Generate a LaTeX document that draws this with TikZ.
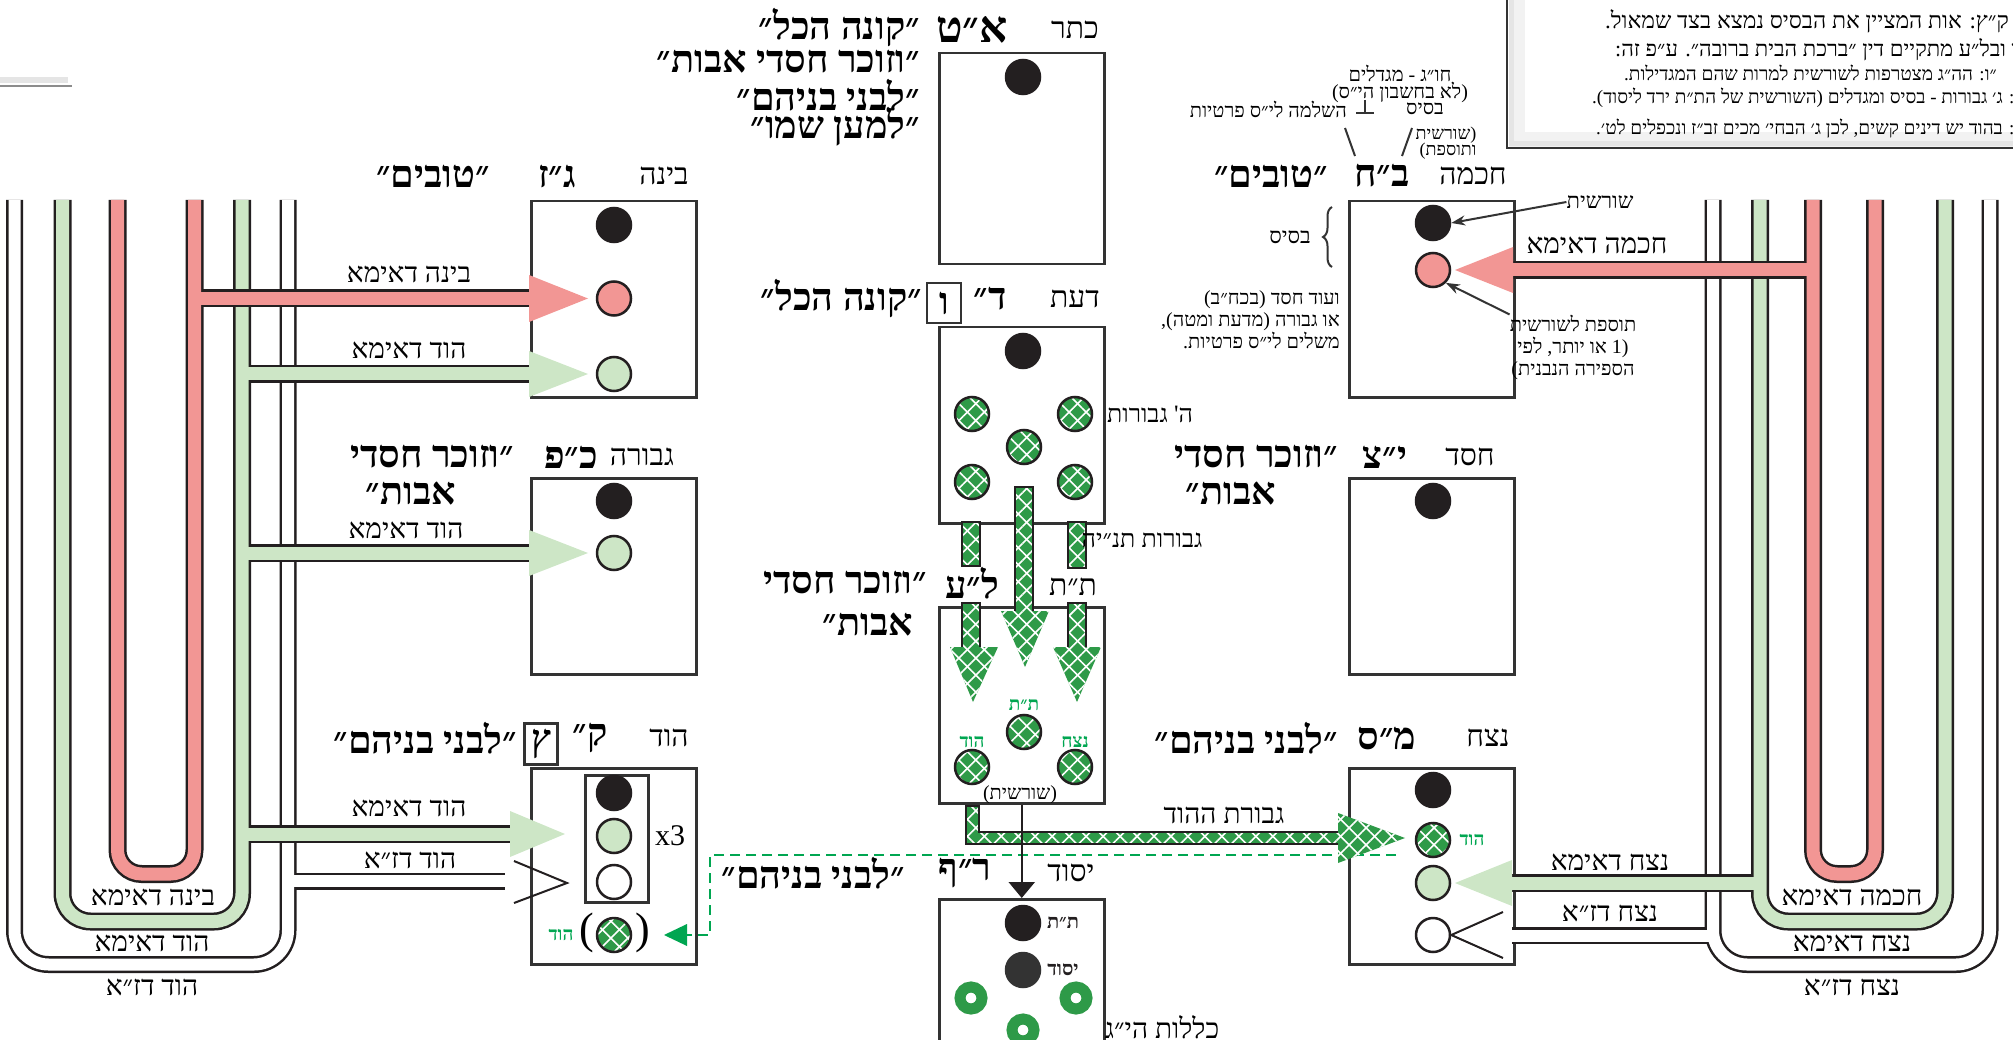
\documentclass[tikz,border=0pt]{standalone}
\usepackage{fontspec}
\setmainfont{Liberation Serif}
\newfontfamily\hebr[Script=Hebrew]{Liberation Serif}
\usetikzlibrary{patterns.meta,decorations.pathreplacing,arrows.meta}
\TeXXeTstate=1
\definecolor{pinkc}{HTML}{F29694}
\definecolor{lgreen}{HTML}{CDE6C6}
\definecolor{hgreen}{HTML}{2E9A48}
\definecolor{dgreen}{HTML}{00A651}
\definecolor{boxc}{HTML}{333333}
\definecolor{blk}{HTML}{231F20}
\newcommand{\RL}[1]{\beginR #1\endR}
\tikzset{
  sbox/.style={draw=boxc, line width=2.5pt, minimum width=165pt, minimum height=196pt, anchor=north west, inner sep=0pt},
  hatch/.style={fill=hgreen,
    postaction={pattern color=white, pattern={Lines[angle=45,distance=12pt,line width=1.6pt]}},
    postaction={pattern color=white, pattern={Lines[angle=-45,distance=12pt,line width=1.6pt]}}},
  hatchb/.style={hatch, postaction={draw=blk, line width=2.2pt}},
  dot/.style={circle, minimum size=34pt, inner sep=0pt, draw=blk, line width=2.5pt},
  bdot/.style={dot, fill=blk},
  pdot/.style={dot, fill=pinkc},
  gdot/.style={dot, fill=lgreen},
  wdot/.style={dot, fill=white},
  hdot/.style={circle, minimum size=34pt, inner sep=0pt, hatch, postaction={draw=blk, line width=2.5pt}},
  ring/.style={circle, minimum size=22pt, inner sep=0pt, draw=hgreen, line width=11pt},
  lbl/.style={font=\hebr\fontsize{28}{30}\selectfont, inner sep=0pt},
  hdn/.style={font=\hebr\fontsize{30}{34}\selectfont, inner sep=0pt},
  hdb/.style={font=\hebr\bfseries\fontsize{38}{40}\selectfont, inner sep=0pt},
  note/.style={font=\hebr\fontsize{20}{22}\selectfont, inner sep=0pt},
  leg/.style={font=\hebr\fontsize{19}{22}\selectfont, inner sep=0pt, anchor=west},
  glbl/.style={font=\hebr\bfseries\fontsize{19}{21}\selectfont, text=dgreen, inner sep=0pt},
  klbl/.style={font=\hebr\bfseries\fontsize{20}{22}\selectfont, text=blk, inner sep=0pt},
  tubeb/.style={draw=blk, line width=18pt},
  tubec/.style={line width=13pt},
  thinb/.style={draw=blk, line width=17pt},
  thinc/.style={draw=white, line width=12pt},
  thinarr/.style={draw=boxc, line width=2pt, -{Stealth[length=14pt,width=10pt]}},
}
\begin{document}
\begin{tikzpicture}[x=1pt,y=-1pt]
\useasboundingbox (0,0) rectangle (2013,1040);
% ---------- corner of a box at top left
\draw[black!10, line width=6pt] (-20,80) -- (68,80);
\draw[black!45, line width=1.5pt] (-20,86) -- (72,86);
% ---------- legend box (top right)
\draw[black!5, line width=16pt] (1517,-20) rectangle (2040,140);
\draw[black!10, line width=5pt] (1511,-20) rectangle (2040,144);
\draw[boxc, line width=2pt] (1507,-20) rectangle (2040,148);
\node[leg, font=\hebr\fontsize{23}{26}\selectfont] (lg1) at (1605,21) {\RL{ק״ץ: אות המציין את הבסיס נמצא בצד שמאול.}};
\node[leg, font=\hebr\fontsize{22}{24}\selectfont] (lg2) at (1615,50) {\RL{ו ובל״ע מתקיים דין ״ברכת הבית ברובה״. ע״פ זה:}};
\node[leg] (lg3) at (1624,73) {\RL{״ו: הה״ג מצטרפות לשורשית למרות שהם המגדילות.}};
\node[leg] (lg4) at (1592,98) {\RL{״ע: ג׳ גבורות - בסיס ומגדלים (השורשית של הת״ת ירד ליסוד).}};
\node[leg] (lg5) at (1596,129) {\RL{: בהוד יש דינים קשים, לכן ג׳ הבחי׳ מכים זב״ז ונכפלים לט׳.}};

% ---------- boxes
\node[sbox, minimum height=211pt] (keter) at (938,52) {};
\node[sbox] (binah) at (530,200) {};
\node[sbox] (hochma) at (1348,200) {};
\node[sbox] (daat) at (938,326) {};
\node[sbox] (gevura) at (530,477) {};
\node[sbox] (chesed) at (1348,477) {};
\node[sbox] (tiferet) at (938,606) {};
\node[sbox] (hod) at (530,767) {};
\node[sbox] (netzach) at (1348,767) {};
\node[sbox] (yesod) at (938,898) {};
\node[draw=boxc, line width=2.5pt, minimum width=63pt, minimum height=127pt, inner sep=0pt, anchor=north west] (hodin) at (584,774) {};

% ---------- left tubes
\draw[thinb, rounded corners=34pt] (14.5,200) -- (14.5,964.5) -- (288,964.5) -- (288,200);
\draw[thinb] (288,881) -- (505,881);
\draw[thinc, rounded corners=34pt] (14.5,200) -- (14.5,964.5) -- (288,964.5) -- (288,200);
\draw[thinc] (288,881) -- (505,881);
\draw[tubeb, rounded corners=28pt] (62.5,200) -- (62.5,921.5) -- (242,921.5) -- (242,200);
\draw[tubeb] (242,374) -- (529,374) (242,553) -- (529,553) (242,834) -- (510,834);
\draw[tubec, lgreen, rounded corners=28pt] (62.5,200) -- (62.5,921.5) -- (242,921.5) -- (242,200);
\draw[tubec, lgreen] (242,374) -- (529,374) (242,553) -- (529,553) (242,834) -- (510,834);
\draw[tubeb, rounded corners=24pt] (117.5,200) -- (117.5,874) -- (194.5,874) -- (194.5,200);
\draw[tubeb] (194.5,298.5) -- (529,298.5);
\draw[tubec, pinkc, rounded corners=24pt] (117.5,200) -- (117.5,874) -- (194.5,874) -- (194.5,200);
\draw[tubec, pinkc] (194.5,298.5) -- (529,298.5);

% ---------- right tubes
\draw[thinb, rounded corners=34pt] (1990,200) -- (1990,964.5) -- (1713,964.5) -- (1713,200);
\draw[thinb] (1713,935.5) -- (1512,935.5);
\draw[thinc, rounded corners=34pt] (1990,200) -- (1990,964.5) -- (1713,964.5) -- (1713,200);
\draw[thinc] (1713,935.5) -- (1512,935.5);
\draw[tubeb, rounded corners=28pt] (1945,200) -- (1945,921.5) -- (1760,921.5) -- (1760,200);
\draw[tubeb] (1760,883) -- (1512,883);
\draw[tubec, lgreen, rounded corners=28pt] (1945,200) -- (1945,921.5) -- (1760,921.5) -- (1760,200);
\draw[tubec, lgreen] (1760,883) -- (1512,883);
\draw[tubeb, rounded corners=24pt] (1875,200) -- (1875,874) -- (1813,874) -- (1813,200);
\draw[tubeb] (1813,270) -- (1513,270);
\draw[tubec, pinkc, rounded corners=24pt] (1875,200) -- (1875,874) -- (1813,874) -- (1813,200);
\draw[tubec, pinkc] (1813,270) -- (1513,270);

% ---------- broad arrowheads
\fill[pinkc] (529,275) -- (588,298.5) -- (529,322) -- cycle;
\fill[lgreen] (529,351) -- (588,374) -- (529,397) -- cycle;
\fill[lgreen] (529,530) -- (588,553) -- (529,576) -- cycle;
\fill[lgreen] (510,811) -- (565,834) -- (510,857) -- cycle;
\fill[pinkc] (1513,247) -- (1455,270) -- (1513,293) -- cycle;
\fill[lgreen] (1512,860) -- (1455,883) -- (1512,906) -- cycle;

% ---------- hatched stripes daat -> tiferet
\path[hatchb] (962,522) rectangle (980,566);
\path[hatchb] (962,603) rectangle (980,648);
\path[hatchb] (1015,487) rectangle (1033,612);
\path[hatchb] (1068,522) rectangle (1086,568);
\path[hatchb] (1068,603) rectangle (1086,648);
\path[hatch] (950,647) -- (998,647) -- (973,702) -- cycle;
\path[hatch] (1001,611) -- (1049,611) -- (1025,667) -- cycle;
\path[hatch] (1053,647) -- (1101,647) -- (1077,702) -- cycle;

% ---------- green dashed line
\draw[dgreen, line width=2.5pt, dash pattern=on 10pt off 6pt] (1396,855) -- (710,855) -- (710,935) -- (686,935);
\fill[dgreen] (687,924) -- (664,935) -- (687,946) -- cycle;

% ---------- gevurat hahod L-shaft
\path[hatchb] (966,806) -- (979,806) -- (979,832) -- (1340,832) -- (1340,844) -- (966,844) -- cycle;
\path[hatch] (1338,813) -- (1405,838) -- (1338,863) -- cycle;

% ---------- tiferet -> yesod
\draw[blk, line width=2.5pt, -{Triangle[length=16pt,width=26pt]}] (tiferet.south) -- (yesod.north);

% ---------- circles
\node[bdot] (kC) at (1023,77) {};
\node[bdot] (bC1) at (614,225) {};
\node[pdot] (bC2) at (614,298.5) {};
\node[gdot] (bC3) at (614,374) {};
\node[bdot] (hoC1) at (1433,223) {};
\node[pdot] (hoC2) at (1433,270) {};
\node[bdot] (dC) at (1023,351) {};
\node[hdot] (dH1) at (972,414) {};
\node[hdot] (dH2) at (1075,414) {};
\node[hdot] (dH3) at (1024,447) {};
\node[hdot] (dH4) at (972,482) {};
\node[hdot] (dH5) at (1075,482) {};
\node[bdot] (gC1) at (614,501) {};
\node[gdot] (gC2) at (614,553) {};
\node[bdot] (cC1) at (1433,501) {};
\node[hdot] (tH1) at (1024,732) {};
\node[hdot] (tH2) at (972,767) {};
\node[hdot] (tH3) at (1075,767) {};
\node[bdot] (hdC1) at (614,793) {};
\node[gdot] (hdC2) at (614,836) {};
\node[wdot] (hdC3) at (614,882) {};
\node[hdot] (hdC4) at (614,935) {};
\node[bdot] (nC1) at (1433,790) {};
\node[hdot] (nC2) at (1433,840) {};
\node[gdot] (nC3) at (1433,883) {};
\node[wdot] (nC4) at (1433,935) {};
\node[bdot] (yC1) at (1023,923) {};
\node[bdot, fill=boxc, draw=boxc] (yC2) at (1023,970) {};
\node[ring] (yR1) at (971,998) {};
\node[ring] (yR2) at (1076,998) {};
\node[ring] (yR3) at (1023,1030) {};

% ---------- open arrows of ZA
\draw[blk, line width=2pt] (514,861) -- (567,883) -- (514,903);
\draw[blk, line width=2pt] (1503,912) -- (nC4.east) -- (1503,958);

% ---------- headers
\node[hdn] (tK) at (1075,30) {\RL{כתר}};
\node[hdb, font=\hebr\bfseries\fontsize{44}{46}\selectfont] (lK) at (972,30) {\RL{א״ט}};
\node[hdb, anchor=east] (qK1) at (920,28) {\RL{״קונה הכל״}};
\node[hdb, anchor=east] (qK2) at (920,62) {\RL{״וזוכר חסדי אבות״}};
\node[hdb, anchor=east] (qK3) at (920,95) {\RL{״לבני בניהם״}};
\node[hdb, anchor=east] (qK4) at (920,127) {\RL{״למען שמו״}};

\node[hdn] (tB) at (664,176) {\RL{בינה}};
\node[hdb] (lB) at (557,176) {\RL{ג״ז}};
\node[hdb, anchor=east] (qB) at (490,176) {\RL{״טובים״}};

\node[hdn] (tH) at (1473,176) {\RL{חכמה}};
\node[hdb] (lH) at (1382,176) {\RL{ב״ח}};
\node[hdb, anchor=east] (qH) at (1328,176) {\RL{״טובים״}};

\node[hdn] (tD) at (1075,299) {\RL{דעת}};
\node[hdb] (lD) at (990,299) {\RL{ד״}};
\node[hdb, draw=boxc, line width=2.5pt, minimum width=34pt, minimum height=40pt] (lDv) at (944,303) {\RL{ו}};
\node[hdb, anchor=east] (qD) at (922,299) {\RL{״קונה הכל״}};

\node[hdn] (tG) at (642,457) {\RL{גבורה}};
\node[hdb] (lG) at (571,457) {\RL{כ״פ}};
\node[hdb, anchor=east] (qG1) at (514,457) {\RL{״וזוכר חסדי}};
\node[hdb, anchor=east] (qG2) at (456,494) {\RL{אבות״}};

\node[hdn] (tC) at (1470,457) {\RL{חסד}};
\node[hdb] (lC) at (1385,457) {\RL{י״צ}};
\node[hdb, anchor=east] (qC1) at (1338,457) {\RL{״וזוכר חסדי}};
\node[hdb, anchor=east] (qC2) at (1276,494) {\RL{אבות״}};

\node[hdn] (tT) at (1073,587) {\RL{ת״ת}};
\node[hdb] (lT) at (972,583) {\RL{ל״ע}};
\node[hdb, anchor=east] (qT1) at (927,583) {\RL{״וזוכר חסדי}};
\node[hdb, anchor=east] (qT2) at (913,625) {\RL{אבות״}};

\node[hdn] (tHo) at (669,738) {\RL{הוד}};
\node[hdb] (lHo) at (590,738) {\RL{ק״}};
\node[hdb, draw=boxc, line width=2.5pt, minimum width=33pt, minimum height=41pt] (lHov) at (541,744) {\RL{ץ}};
\node[hdb, anchor=east] (qHo) at (517,738) {\RL{״לבני בניהם״}};

\node[hdn] (tN) at (1488,738) {\RL{נצח}};
\node[hdb] (lN) at (1387,738) {\RL{מ״ס}};
\node[hdb, anchor=east] (qN) at (1338,738) {\RL{״לבני בניהם״}};

\node[hdn] (tY) at (1071,873) {\RL{יסוד}};
\node[hdb] (lY) at (965,873) {\RL{ר״ף}};
\node[hdb, anchor=east] (qY) at (905,873) {\RL{״לבני בניהם״}};

% ---------- arrow labels
\node[lbl] (aB1) at (409,274) {\RL{בינה דאימא}};
\node[lbl] (aB2) at (409,350) {\RL{הוד דאימא}};
\node[lbl] (aG) at (406,530) {\RL{הוד דאימא}};
\node[lbl] (aHo1) at (409,808) {\RL{הוד דאימא}};
\node[lbl] (aHo2) at (410,860) {\RL{הוד דז״א}};
\node[lbl] (aH) at (1597,245) {\RL{חכמה דאימא}};
\node[lbl] (aN1) at (1610,862) {\RL{נצח דאימא}};
\node[lbl] (aN2) at (1610,913) {\RL{נצח דז״א}};
\node[lbl] (aGH) at (1224,815) {\RL{גבורת ההוד}};
\node[lbl, font=\hebr\fontsize{25}{28}\selectfont] (aDG) at (1150,414) {\RL{ה' גבורות}};
\node[lbl, font=\hebr\fontsize{25}{28}\selectfont] (aGT) at (1142,540) {\RL{גבורות תנ״יה}};
\node[lbl] (aKl) at (1162,1027) {\RL{כללות הי״ג}};

% tube labels
\node[lbl] (tl1) at (153,897) {\RL{בינה דאימא}};
\node[lbl] (tl2) at (152,943) {\RL{הוד דאימא}};
\node[lbl] (tl3) at (152,987) {\RL{הוד דז״א}};
\node[lbl] (tr1) at (1852,897) {\RL{חכמה דאימא}};
\node[lbl] (tr2) at (1852,943) {\RL{נצח דאימא}};
\node[lbl] (tr3) at (1852,987) {\RL{נצח דז״א}};

% ---------- small labels in boxes
\node[glbl] (gT1) at (1024,705) {\RL{ת״ת}};
\node[glbl] (gT2) at (972,742) {\RL{הוד}};
\node[glbl] (gT3) at (1075,742) {\RL{נצח}};
\node[note] (shT) at (1020,795) {\RL{(שורשית)}};
\node[glbl] (gHo) at (561,935) {\RL{הוד}};
\node[glbl] (gN) at (1472,840) {\RL{הוד}};
\node[klbl] (kY1) at (1063,923) {\RL{ת״ת}};
\node[klbl] (kY2) at (1063,970) {\RL{יסוד}};
\node[font=\fontsize{30}{34}\selectfont, inner sep=0pt] (x3) at (670,836) {x3};
\node[font=\fontsize{44}{48}\selectfont, inner sep=0pt] (pL) at (587,933) {(};
\node[font=\fontsize{44}{48}\selectfont, inner sep=0pt] (pR) at (643,933) {)};

% ---------- notes around hochma
\node[note] (n1) at (1400,73) {\RL{חו״ג - מגדלים}};
\node[note] (n2) at (1400,92) {\RL{(לא בחשבון הי״ס)}};
\node[note] (n3) at (1425,109) {\RL{בסיס}};
\node[note, anchor=east] (n4) at (1347,109) {\RL{השלמה לי״ס פרטיות}};
\node[note, font=\hebr\fontsize{18}{20}\selectfont] (n5) at (1446,135) {\RL{(שורשית}};
\node[note, font=\hebr\fontsize{18}{20}\selectfont] (n6) at (1448,151) {\RL{ותוספת)}};
\coordinate (pa) at (1345,128); \coordinate (pb) at (1355,156);
\coordinate (pc) at (1412,128); \coordinate (pd) at (1402,156);
\draw[boxc, line width=2pt] (pa) -- (pb) (pc) -- (pd);
\coordinate (pe) at (1365,100); \coordinate (pf) at (1365,113);
\coordinate (pg) at (1356,113); \coordinate (ph) at (1374,113);
\draw[boxc, line width=2pt] (pe) -- (pf) (pg) -- (ph);

\node[note, font=\hebr\fontsize{22}{24}\selectfont] (bs) at (1290,237) {\RL{בסיס}};
\draw[boxc, line width=2pt, decorate, decoration={brace, amplitude=9pt}] (1332,267) -- (1332,207);
\node[note, align=right, anchor=east] (hn) at (1340,320) {\RL{ועוד חסד (בכח״ב)}\\\RL{או גבורה (מדעת ומטה),}\\\RL{משלים לי״ס פרטיות.}};
\node[note, font=\hebr\fontsize{22}{24}\selectfont] (sh) at (1600,202) {\RL{שורשית}};
\draw[thinarr] (sh.west) -- (hoC1.east);
\node[note, align=center] (tos) at (1573,347) {\RL{תוספת לשורשית}\\\RL{(1 או יותר, לפי}\\\RL{הספירה הנבנית)}};
\draw[thinarr] (tos.north west) -- (hoC2.south east);
\end{tikzpicture}
\end{document}
